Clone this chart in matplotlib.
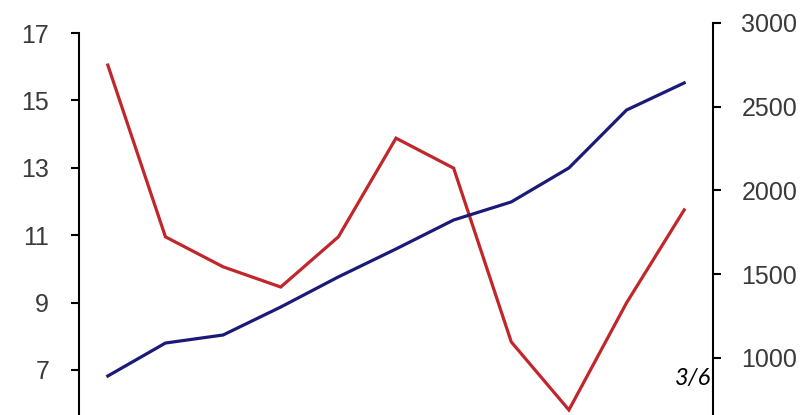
import matplotlib
matplotlib.use("Agg")
from matplotlib import pyplot as plt

# 数据
x_idx = list(range(11))
red_vals = [16.05, 10.95, 10.06, 9.46, 10.95, 13.88, 12.99, 7.83, 5.81, 8.99, 11.75]
blue_vals = [891, 1088, 1136, 1303, 1483, 1650, 1823, 1931, 2134, 2480, 2642]
left_ticks = [7, 9, 11, 13, 15, 17]
right_ticks = [1000, 1500, 2000, 2500, 3000]

fig = plt.figure(figsize=(8.11, 4.15), dpi=100)
ax = fig.add_axes([79 / 811, 0.0, 634 / 811, 392 / 415])
ax2 = ax.twinx()

ax.plot(x_idx, red_vals, color="#c0262a", lw=2.3, solid_joinstyle="miter")
ax2.plot(x_idx, blue_vals, color="#1b1a78", lw=2.3, solid_joinstyle="miter")

ax.set_xlim(-0.5, 10.5)
ax.set_ylim(5.66, 17.30)
ax2.set_ylim(658, 3000)

for a in (ax, ax2):
    a.spines["top"].set_visible(False)
    a.spines["bottom"].set_visible(False)
    a.set_xticks([])

ax.spines["right"].set_visible(False)
ax2.spines["left"].set_visible(False)
ax.spines["left"].set_bounds(5.66, 17)
ax2.spines["right"].set_bounds(658, 3000)
ax.spines["left"].set_linewidth(1.5)
ax2.spines["right"].set_linewidth(1.5)

ax.set_yticks(left_ticks)
ax.set_yticklabels([str(t) for t in left_ticks])
ax2.set_yticks(right_ticks)
ax2.set_yticklabels([str(t) for t in right_ticks])

ax.tick_params(axis="y", length=5.5, width=1.5, pad=16, labelsize=18,
               labelcolor="#3a3a3a", labelfontfamily="Liberation Sans")
ax2.tick_params(axis="y", length=5.5, width=1.5, pad=15, labelsize=18,
                labelcolor="#3a3a3a", labelfontfamily="Liberation Sans")

# 页码
fig.text(711 / 811, 1 - 378 / 415, "3/6", ha="right", va="center",
         fontsize=17, style="italic", family="Lato", color="black")

fig.savefig("out.png", dpi=100)
